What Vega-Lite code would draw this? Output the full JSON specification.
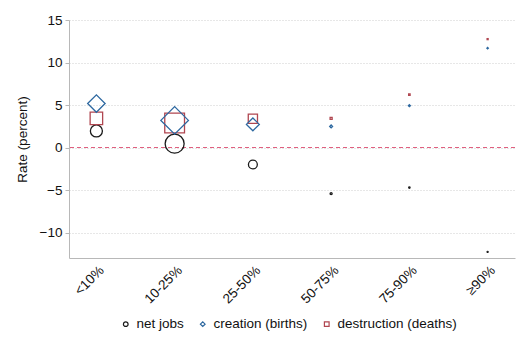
{
  "$schema": "https://vega.github.io/schema/vega-lite/v6.json",
  "width": 446,
  "height": 238,
  "autosize": {"type": "none"},
  "padding": {"left": 69, "top": 20, "right": 13, "bottom": 94},
  "background": "white",
  "config": {
    "view": {"stroke": null},
    "font": "Liberation Sans",
    "axis": {"labelFont": "Liberation Sans", "titleFont": "Liberation Sans", "labelColor": "#111", "titleColor": "#111", "domainColor": "#b8b8b8", "tickColor": "#b8b8b8"},
    "legend": {"labelFont": "Liberation Sans"}
  },
  "data": {
    "values": [
      {"cat": "<10%", "series": "net jobs", "value": 1.95, "weight": 22},
      {"cat": "<10%", "series": "creation (births)", "value": 5.17, "weight": 22},
      {"cat": "<10%", "series": "destruction (deaths)", "value": 3.42, "weight": 22},
      {"cat": "10-25%", "series": "net jobs", "value": 0.45, "weight": 55},
      {"cat": "10-25%", "series": "creation (births)", "value": 3.19, "weight": 55},
      {"cat": "10-25%", "series": "destruction (deaths)", "value": 2.89, "weight": 55},
      {"cat": "25-50%", "series": "net jobs", "value": -2.0, "weight": 12},
      {"cat": "25-50%", "series": "creation (births)", "value": 2.72, "weight": 12},
      {"cat": "25-50%", "series": "destruction (deaths)", "value": 3.39, "weight": 12},
      {"cat": "50-75%", "series": "net jobs", "value": -5.43, "weight": 0.6},
      {"cat": "50-75%", "series": "creation (births)", "value": 2.48, "weight": 0.6},
      {"cat": "50-75%", "series": "destruction (deaths)", "value": 3.42, "weight": 0.6},
      {"cat": "75-90%", "series": "net jobs", "value": -4.72, "weight": 0.3},
      {"cat": "75-90%", "series": "creation (births)", "value": 4.92, "weight": 0.3},
      {"cat": "75-90%", "series": "destruction (deaths)", "value": 6.22, "weight": 0.3},
      {"cat": "≥90%", "series": "net jobs", "value": -12.28, "weight": 0.15},
      {"cat": "≥90%", "series": "creation (births)", "value": 11.69, "weight": 0.15},
      {"cat": "≥90%", "series": "destruction (deaths)", "value": 12.75, "weight": 0.15}
    ]
  },
  "layer": [
    {
      "data": {"values": [{"ref": 0}]},
      "mark": {"type": "rule", "stroke": "#e0607f", "strokeDash": [4, 3], "strokeWidth": 1.2, "strokeOpacity": 1},
      "encoding": {"y": {"field": "ref", "type": "quantitative", "scale": {"domain": [-13, 15], "nice": false, "zero": false}}}
    },
    {
      "layer": [
        {
          "transform": [{"filter": "datum.series === 'net jobs'"}],
          "mark": {"type": "point", "filled": false, "strokeWidth": 1.3, "opacity": 1},
          "encoding": {"size": {"field": "weight", "type": "quantitative", "scale": {"type": "linear", "domain": [0, 55], "range": [0, 361]}, "legend": null}}
        },
        {
          "transform": [{"filter": "datum.series === 'destruction (deaths)'"}],
          "mark": {"type": "point", "filled": false, "strokeWidth": 1.3, "opacity": 1},
          "encoding": {"size": {"field": "weight", "type": "quantitative", "scale": {"type": "linear", "domain": [0, 55], "range": [0, 390]}, "legend": null}}
        },
        {
          "transform": [{"filter": "datum.series === 'creation (births)'"}],
          "mark": {"type": "point", "filled": false, "strokeWidth": 1.3, "opacity": 1},
          "encoding": {"size": {"field": "weight", "type": "quantitative", "scale": {"type": "linear", "domain": [0, 55], "range": [0, 760]}, "legend": null}}
        }
      ],
      "encoding": {
        "x": {
          "field": "cat", "type": "ordinal",
          "sort": ["<10%", "10-25%", "25-50%", "50-75%", "75-90%", "≥90%"],
          "scale": {"type": "point", "padding": 0.35},
          "axis": {"title": null, "labelAngle": -45, "labelFontSize": 13.5, "ticks": false, "labelPadding": 5, "grid": false, "domainColor": "#b8b8b8"}
        },
        "y": {
          "field": "value", "type": "quantitative",
          "scale": {"domain": [-13, 15], "nice": false, "zero": false},
          "axis": {"title": "Rate (percent)", "titleFontSize": 13.5, "titleFontWeight": "normal", "titlePadding": 10, "labelFontSize": 13.5, "values": [-10, -5, 0, 5, 10, 15], "tickSize": 4, "labelPadding": 3, "grid": true, "gridColor": "#cfcfcf", "gridDash": [1, 2], "gridWidth": 1}
        },
        "color": {
          "field": "series", "type": "nominal",
          "scale": {"domain": ["net jobs", "creation (births)", "destruction (deaths)"], "range": ["#1a1a1a", "#2d68a0", "#b04650"]},
          "legend": {"title": null, "orient": "none", "legendX": 50, "legendY": 297, "direction": "horizontal", "labelFontSize": 13.5, "labelColor": "#111", "symbolSize": 22, "symbolStrokeWidth": 1.2, "columnPadding": 12, "labelOffset": 4}
        },
        "shape": {
          "field": "series", "type": "nominal",
          "scale": {"domain": ["net jobs", "creation (births)", "destruction (deaths)"], "range": ["circle", "diamond", "square"]},
          "legend": {"title": null, "orient": "none", "legendX": 50, "legendY": 297, "direction": "horizontal"}
        }
      },
      "resolve": {"scale": {"size": "independent"}}
    }
  ]
}
